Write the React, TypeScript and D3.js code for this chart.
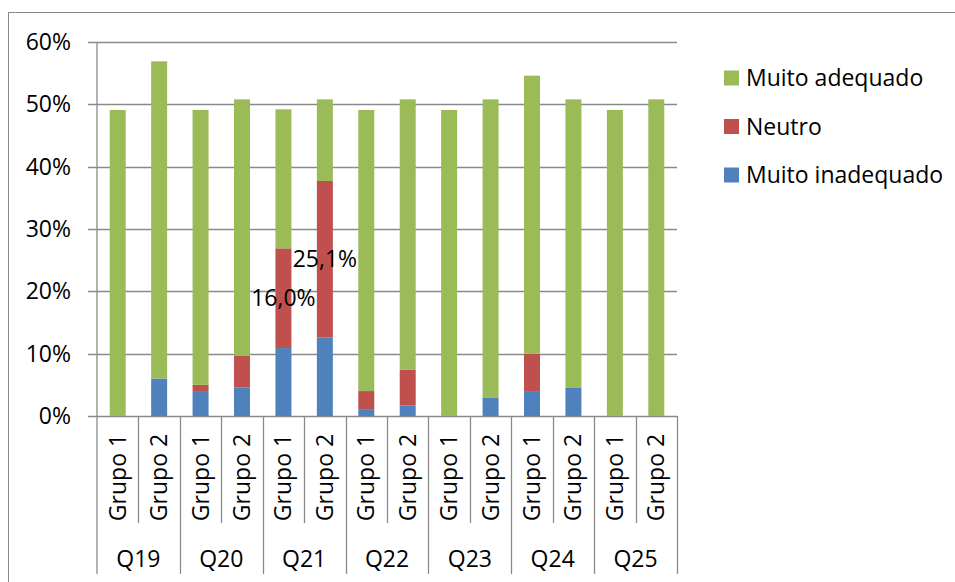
import React from "react";
import * as d3 from "d3";

// Survey answers per question (Q19–Q25) and group, in percent
const questions = ["Q19", "Q20", "Q21", "Q22", "Q23", "Q24", "Q25"];
const groups = ["Grupo 1", "Grupo 2"];
const muitoInadequado = [0, 6.0, 4.0, 4.6, 10.9, 12.6, 1.1, 1.7, 0, 2.9, 4.0, 4.5, 0, 0];
const neutro = [0, 0, 1.0, 5.1, 16.0, 25.1, 2.9, 5.7, 0, 0, 6.0, 0, 0, 0];
const muitoAdequado = [49.1, 50.9, 44.1, 41.1, 22.3, 13.1, 45.1, 43.4, 49.1, 47.9, 44.6, 46.3, 49.1, 50.8];
const yTicks = [0, 10, 20, 30, 40, 50, 60];
// bars whose "Neutro" segment carries a value label
const labeledNeutro = [4, 5];

const seriesKeys = ["inadequado", "neutro", "adequado"];
const seriesNames: Record<string, string> = {
  adequado: "Muito adequado",
  neutro: "Neutro",
  inadequado: "Muito inadequado",
};
const colors: Record<string, string> = {
  adequado: "#9BBB59",
  neutro: "#C0504D",
  inadequado: "#4F81BD",
};

const W = 955;
const H = 582;
const plot = { left: 97, right: 677, top: 42, bottom: 416 };
const FONT = "'Open Sans', sans-serif";
const FS = 23;
const GRID = "#8a8a8a";

const locale = d3.formatLocale({ decimal: ",", thousands: ".", grouping: [3], currency: ["", ""] });
const fmtPct = locale.format(".1f");

export default function App() {
  const rows = questions.flatMap((q, qi) =>
    groups.map((g, gi) => {
      const i = qi * groups.length + gi;
      return {
        key: `${q}-${g}`,
        q,
        g,
        inadequado: muitoInadequado[i],
        neutro: neutro[i],
        adequado: muitoAdequado[i],
      };
    })
  );

  const x = d3
    .scaleBand<string>()
    .domain(rows.map((r) => r.key))
    .range([plot.left, plot.right])
    .paddingInner(0.614)
    .paddingOuter(0.307);
  const xq = d3.scaleBand<string>().domain(questions).range([plot.left, plot.right]).padding(0);
  const y = d3.scaleLinear().domain([0, 60]).range([plot.bottom, plot.top]);

  const stack = d3.stack<any>().keys(seriesKeys);
  const stacked = stack(rows);

  const step = x.step();
  const catBottom = 523;
  const groupBottom = 574;

  return (
    <svg
      width={W}
      height={H}
      style={{ position: "absolute", left: 0, top: 0, background: "#fff" }}
      fontFamily={FONT}
    >
      {/* outer chart frame */}
      <rect x={8.5} y={12.5} width={1000} height={1000} fill="#fff" stroke={GRID} strokeWidth={1} />

      {/* horizontal gridlines with tick marks */}
      {yTicks.map((t) => (
        <g key={t}>
          <line x1={88} x2={plot.right} y1={Math.round(y(t)) + 0.5} y2={Math.round(y(t)) + 0.5} stroke={GRID} strokeWidth={1.3} />
          <text x={71} y={y(t)} dy="0.35em" textAnchor="end" fontSize={FS} fill="#000">
            {`${t}%`}
          </text>
        </g>
      ))}

      {/* vertical axis */}
      <line x1={plot.left} x2={plot.left} y1={plot.top} y2={groupBottom} stroke={GRID} strokeWidth={1.3} />

      {/* category separators */}
      {d3.range(1, rows.length + 1).map((i) => {
        const xx = Math.round(plot.left + i * step) + 0.5;
        const isGroup = i % groups.length === 0;
        return (
          <line key={i} x1={xx} x2={xx} y1={plot.bottom} y2={isGroup ? groupBottom : catBottom} stroke={GRID} strokeWidth={1.3} />
        );
      })}

      {/* stacked bars */}
      {stacked.map((s) => (
        <g key={s.key} fill={colors[s.key]}>
          {s.map((d, i) => {
            const h = y(d[0]) - y(d[1]);
            if (h <= 0) return null;
            return <rect key={i} x={x(rows[i].key)} y={y(d[1])} width={x.bandwidth()} height={h} />;
          })}
        </g>
      ))}

      {/* value labels on the "Neutro" segments */}
      {labeledNeutro.map((i) => {
        const s = stacked[1][i];
        const cx = (x(rows[i].key) as number) + x.bandwidth() / 2;
        const cy = (y(s[0]) + y(s[1])) / 2;
        return (
          <text key={i} x={cx} y={cy} dy="0.35em" textAnchor="middle" fontSize={FS} fill="#000">
            {`${fmtPct(neutro[i])}%`}
          </text>
        );
      })}

      {/* rotated group labels */}
      {rows.map((r) => {
        const cx = (x(r.key) as number) + x.bandwidth() / 2;
        const cy = 477.5;
        return (
          <text
            key={r.key}
            transform={`translate(${cx},${cy}) rotate(-90)`}
            dy="0.35em"
            textAnchor="middle"
            fontSize={FS}
            fill="#000"
          >
            {r.g}
          </text>
        );
      })}

      {/* question labels */}
      {questions.map((q) => (
        <text key={q} x={(xq(q) as number) + xq.bandwidth() / 2} y={559} dy="0.35em" textAnchor="middle" fontSize={FS} fill="#000">
          {q}
        </text>
      ))}

      {/* legend */}
      {["adequado", "neutro", "inadequado"].map((k, i) => {
        const cy = 78 + i * 48.5;
        return (
          <g key={k}>
            <rect x={724} y={cy - 7.5} width={15} height={15} fill={colors[k]} />
            <text x={746} y={cy} dy="0.35em" fontSize={FS} fill="#000">
              {seriesNames[k]}
            </text>
          </g>
        );
      })}
    </svg>
  );
}
